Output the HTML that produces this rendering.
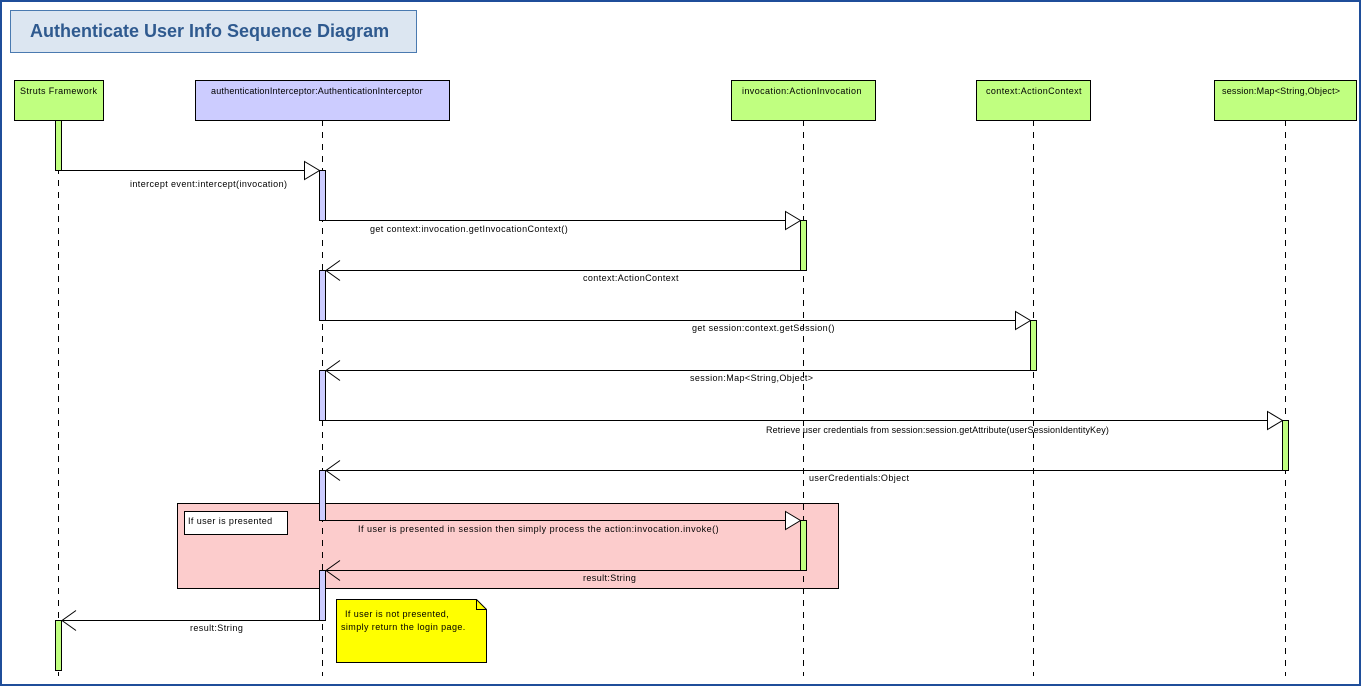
<!DOCTYPE html>
<html><head><meta charset="utf-8"><style>
html,body{margin:0;padding:0;background:#fff}
svg{display:block}
text{font-family:"Liberation Sans",sans-serif;font-size:9px;fill:#000;letter-spacing:0.4px}
</style></head><body>
<svg width="1361" height="686" viewBox="0 0 1361 686" xmlns="http://www.w3.org/2000/svg">
<rect x="1" y="1" width="1359" height="684" fill="#fff" stroke="#1f4e9a" stroke-width="2"/>
<rect x="10.5" y="10.5" width="406" height="42" fill="#dce6f1" stroke="#4a7ab0"/>
<text x="30" y="37" style="font-size:18px;font-weight:bold;fill:#2f5a8f;letter-spacing:0">Authenticate User Info Sequence Diagram</text>

<!-- fragment -->
<rect x="177.5" y="503.5" width="661" height="85" fill="#fccccc" stroke="#000"/>
<rect x="184.5" y="511.5" width="103" height="23" fill="#fff" stroke="#000"/>
<text x="188" y="524">If user is presented</text>

<!-- lifelines -->
<g stroke="#000" stroke-dasharray="6,6">
<line x1="58.5" y1="120" x2="58.5" y2="676"/>
<line x1="322.5" y1="120" x2="322.5" y2="676"/>
<line x1="803.5" y1="120" x2="803.5" y2="676"/>
<line x1="1033.5" y1="120" x2="1033.5" y2="676"/>
<line x1="1285.5" y1="120" x2="1285.5" y2="676"/>
</g>

<!-- heads -->
<g stroke="#000">
<rect x="14.5" y="80.5" width="89" height="40" fill="#c0ff80"/>
<rect x="195.5" y="80.5" width="254" height="40" fill="#ccccff"/>
<rect x="731.5" y="80.5" width="144" height="40" fill="#c0ff80"/>
<rect x="976.5" y="80.5" width="114" height="40" fill="#c0ff80"/>
<rect x="1214.5" y="80.5" width="142" height="40" fill="#c0ff80"/>
</g>
<text x="20" y="94">Struts Framework</text>
<text x="211" y="94" style="letter-spacing:0.2px">authenticationInterceptor:AuthenticationInterceptor</text>
<text x="742" y="94">invocation:ActionInvocation</text>
<text x="986" y="94">context:ActionContext</text>
<text x="1222" y="94" style="letter-spacing:0.2px">session:Map&lt;String,Object&gt;</text>

<!-- activations -->
<g stroke="#000">
<rect x="55.5" y="120.5" width="6" height="50" fill="#c0ff80"/>
<rect x="55.5" y="620.5" width="6" height="50" fill="#c0ff80"/>
<rect x="319.5" y="170.5" width="6" height="50" fill="#ccccff"/>
<rect x="319.5" y="270.5" width="6" height="50" fill="#ccccff"/>
<rect x="319.5" y="370.5" width="6" height="50" fill="#ccccff"/>
<rect x="319.5" y="470.5" width="6" height="50" fill="#ccccff"/>
<rect x="319.5" y="570.5" width="6" height="50" fill="#ccccff"/>
<rect x="800.5" y="220.5" width="6" height="50" fill="#c0ff80"/>
<rect x="800.5" y="520.5" width="6" height="50" fill="#c0ff80"/>
<rect x="1030.5" y="320.5" width="6" height="50" fill="#c0ff80"/>
<rect x="1282.5" y="420.5" width="6" height="50" fill="#c0ff80"/>
</g>

<!-- calls -->
<g stroke="#000" fill="#fff">
<line x1="61" y1="170.5" x2="305" y2="170.5"/><polygon points="304.5,161.5 319.5,170.5 304.5,179.5"/>
<line x1="325" y1="220.5" x2="786" y2="220.5"/><polygon points="785.5,211.5 800.5,220.5 785.5,229.5"/>
<line x1="325" y1="320.5" x2="1016" y2="320.5"/><polygon points="1015.5,311.5 1030.5,320.5 1015.5,329.5"/>
<line x1="325" y1="420.5" x2="1268" y2="420.5"/><polygon points="1267.5,411.5 1282.5,420.5 1267.5,429.5"/>
<line x1="325" y1="520.5" x2="786" y2="520.5"/><polygon points="785.5,511.5 800.5,520.5 785.5,529.5"/>
</g>
<!-- returns -->
<g stroke="#000" fill="none">
<line x1="800" y1="270.5" x2="326" y2="270.5"/><polyline points="340,260.5 326,270.5 340,280.5"/>
<line x1="1030" y1="370.5" x2="326" y2="370.5"/><polyline points="340,360.5 326,370.5 340,380.5"/>
<line x1="1282" y1="470.5" x2="326" y2="470.5"/><polyline points="340,460.5 326,470.5 340,480.5"/>
<line x1="800" y1="570.5" x2="326" y2="570.5"/><polyline points="340,560.5 326,570.5 340,580.5"/>
<line x1="319" y1="620.5" x2="62" y2="620.5"/><polyline points="76,610.5 62,620.5 76,630.5"/>
</g>

<text x="130" y="187">intercept event:intercept(invocation)</text>
<text x="370" y="232">get context:invocation.getInvocationContext()</text>
<text x="583" y="281">context:ActionContext</text>
<text x="692" y="331">get session:context.getSession()</text>
<text x="690" y="381">session:Map&lt;String,Object&gt;</text>
<text x="766" y="433" style="letter-spacing:0.1px">Retrieve user credentials from session:session.getAttribute(userSessionIdentityKey)</text>
<text x="809" y="481">userCredentials:Object</text>
<text x="358" y="532" style="letter-spacing:0.5px">If user is presented in session then simply process the action:invocation.invoke()</text>
<text x="583" y="581">result:String</text>
<text x="190" y="631">result:String</text>

<!-- note -->
<polygon points="336.5,599.5 476.5,599.5 486.5,609.5 486.5,662.5 336.5,662.5" fill="#ffff00" stroke="#000"/>
<polyline points="476.5,599.5 476.5,609.5 486.5,609.5" fill="none" stroke="#000"/>
<text x="345" y="617">If user is not presented,</text>
<text x="341" y="630">simply return the login page.</text>
</svg>
</body></html>
